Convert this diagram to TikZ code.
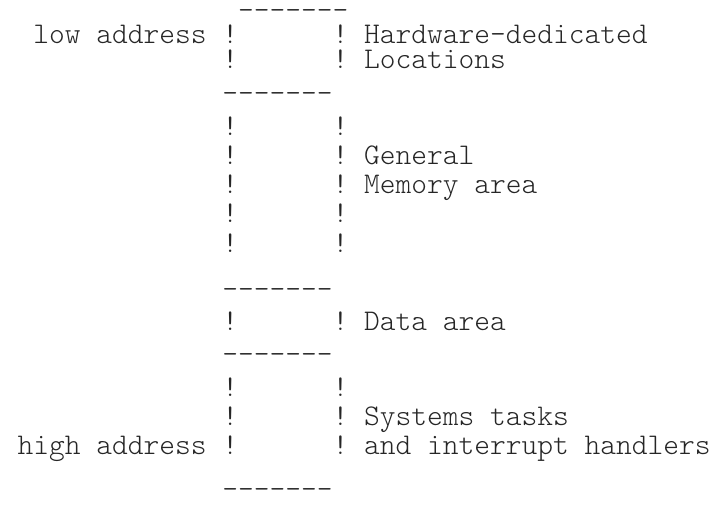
\documentclass[tikz,border=0pt]{standalone}
\usepackage{fontspec}
\setmonofont{Latin Modern Mono Light}
\begin{document}
\begin{tikzpicture}[
  txt/.style={anchor=base west, inner sep=0pt, outer sep=0pt, text=black!85,
    text height=13pt, text depth=4pt,
    font=\ttfamily\fontsize{30pt}{30pt}\selectfont},
]
\useasboundingbox (0,0) rectangle (719pt,515pt);
\begin{scope}[shift={(17.5pt,515pt)}, x=15.75pt, y=-1pt]
% row 1
\node[txt] (d1) at (14,20) {-------};
% row 2
\node[txt] (low) at (1,44) {low address};
\node[txt] (l2) at (13,44) {!};
\node[txt] (r2) at (20,44) {!};
\node[txt] (hw) at (22,44) {Hardware-dedicated};
% row 3
\node[txt] (l3) at (13,69) {!};
\node[txt] (r3) at (20,69) {!};
\node[txt] (loc) at (22,69) {Locations};
% row 4
\node[txt] (d4) at (13,103) {-------};
% rows 5-9
\node[txt] (l5) at (13,135) {!};
\node[txt] (r5) at (20,135) {!};
\node[txt] (l6) at (13,164) {!};
\node[txt] (r6) at (20,164) {!};
\node[txt] (gen) at (22,164) {General};
\node[txt] (l7) at (13,193) {!};
\node[txt] (r7) at (20,193) {!};
\node[txt] (mem) at (22,193) {Memory area};
\node[txt] (l8) at (13,222) {!};
\node[txt] (r8) at (20,222) {!};
\node[txt] (l9) at (13,252) {!};
\node[txt] (r9) at (20,252) {!};
% row 10
\node[txt] (d10) at (13,298) {-------};
% row 11
\node[txt] (l11) at (13,330) {!};
\node[txt] (r11) at (20,330) {!};
\node[txt] (data) at (22,330) {Data area};
% row 12
\node[txt] (d12) at (13,363) {-------};
% rows 13-15
\node[txt] (l13) at (13,396) {!};
\node[txt] (r13) at (20,396) {!};
\node[txt] (l14) at (13,425) {!};
\node[txt] (r14) at (20,425) {!};
\node[txt] (sys) at (22,425) {Systems tasks};
\node[txt] (high) at (0,454) {high address};
\node[txt] (l15) at (13,454) {!};
\node[txt] (r15) at (20,454) {!};
\node[txt] (intr) at (22,454) {and interrupt handlers};
% row 16
\node[txt] (d16) at (13,498) {-------};
\end{scope}
\end{tikzpicture}
\end{document}
